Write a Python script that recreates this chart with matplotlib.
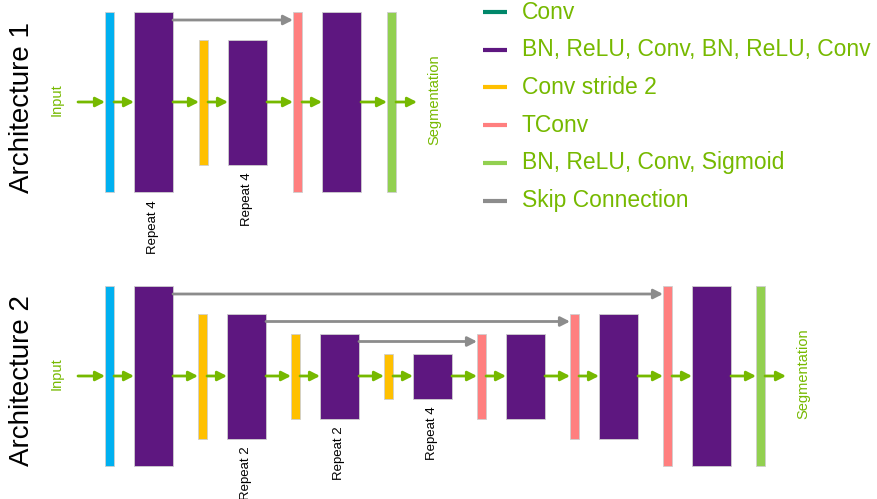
'''
Segmentation network architecture diagram
'''

# Imports
import matplotlib
matplotlib.use('Agg')
import matplotlib.pyplot as plt
from matplotlib.patches import Rectangle

plt.rcParams['font.family'] = ['Liberation Sans', 'DejaVu Sans']

# Colours
GREEN_TEXT = '#76B900'
COLORS = {
    'conv': '#00B0F0',
    'block': '#5E1780',
    'down': '#FFC000',
    'up': '#FF7F7F',
    'out': '#92D050',
    'skip': '#8C8C8C',
}

# Legend
LEGEND_LABELS = ['Conv', 'BN, ReLU, Conv, BN, ReLU, Conv', 'Conv stride 2',
                 'TConv', 'BN, ReLU, Conv, Sigmoid', 'Skip Connection']
LEGEND_COLORS = ['#00876A', '#5E1780', '#FFC000', '#FF7F7F', '#92D050', '#8C8C8C']

# Architectures: layer kinds, depth level of each layer, repeat labels
ARCH1_KINDS = ['conv', 'block', 'down', 'block', 'up', 'block', 'out']
ARCH1_LEVELS = [0, 0, 1, 1, 0, 0, 0]
ARCH1_REPEATS = ['', 'Repeat 4', '', 'Repeat 4', '', '', '']

ARCH2_KINDS = ['conv', 'block', 'down', 'block', 'down', 'block', 'down', 'block',
               'up', 'block', 'up', 'block', 'up', 'block', 'out']
ARCH2_LEVELS = [0, 0, 1, 1, 2, 2, 3, 3, 2, 2, 1, 1, 0, 0, 0]
ARCH2_REPEATS = ['', '', '', 'Repeat 2', '', 'Repeat 2', '', 'Repeat 4',
                 '', '', '', '', '', '', '']

# Drawing params (pixels)
LEVEL_HEIGHT = [180, 125, 85, 45]
THIN_W, WIDE_W = 9, 39


def DrawArchitecture(ax, kinds, levels, repeats, cy, title, gaps):
    x = 105
    boxes = []
    for i, (k, lv) in enumerate(zip(kinds, levels)):
        w = WIDE_W if k == 'block' else THIN_W
        h = LEVEL_HEIGHT[lv]
        ax.add_patch(Rectangle((x, cy - h / 2), w, h, facecolor=COLORS[k],
                               edgecolor='#cfcfcf', linewidth=0.6, zorder=2))
        boxes.append((x, w, h))
        if repeats[i]:
            ax.text(x + w / 2, cy + h / 2 + 8, repeats[i], rotation=90, ha='center',
                    va='top', fontsize=9.5, color='black')
        x += w + (gaps[0] if k == 'block' else gaps[1])

    arrow = dict(arrowstyle='-|>,head_length=0.55,head_width=0.28', color=GREEN_TEXT,
                 lw=2, shrinkA=0, shrinkB=0)
    # main path
    ax.annotate('', xy=(boxes[0][0], cy), xytext=(78, cy), arrowprops=arrow)
    for (x0, w0, _), (x1, _, _) in zip(boxes[:-1], boxes[1:]):
        ax.annotate('', xy=(x1, cy), xytext=(x0 + w0, cy), arrowprops=arrow)
    xl, wl, _ = boxes[-1]
    ax.annotate('', xy=(xl + wl + 21, cy), xytext=(xl + wl, cy), arrowprops=arrow)

    # skip connections: encoder block -> up layer on the same level
    skip = dict(arrow, color=COLORS['skip'])
    for i, k in enumerate(kinds):
        if k != 'block' or i + 1 >= len(kinds) or kinds[i + 1] != 'down':
            continue
        lv = levels[i]
        j = [n for n in range(i + 1, len(kinds)) if kinds[n] == 'up' and levels[n] == lv][0]
        y = cy - LEVEL_HEIGHT[lv] / 2 + 8
        ax.annotate('', xy=(boxes[j][0], y), xytext=(boxes[i][0] + boxes[i][1], y),
                    arrowprops=skip)

    ax.text(57, cy - 2, 'Input', rotation=90, ha='center', va='center',
            fontsize=10.5, color=GREEN_TEXT)
    ax.text(xl + wl + 38, cy - 2, 'Segmentation', rotation=90, ha='center', va='center',
            fontsize=10.5, color=GREEN_TEXT)
    ax.text(22, cy + 5, title, rotation=90, ha='center', va='center',
            fontsize=20, color='black')


fig = plt.figure(figsize=(8.78, 4.99), dpi=100)
ax = fig.add_axes([0, 0, 1, 1])
ax.set_xlim(0, 878)
ax.set_ylim(499, 0)
ax.axis('off')

DrawArchitecture(ax, ARCH1_KINDS, ARCH1_LEVELS, ARCH1_REPEATS, 102, 'Architecture 1', (26, 20))
DrawArchitecture(ax, ARCH2_KINDS, ARCH2_LEVELS, ARCH2_REPEATS, 376, 'Architecture 2', (25, 20))

# Legend
for n, (lab, col) in enumerate(zip(LEGEND_LABELS, LEGEND_COLORS)):
    y = 12 + n * 37.7
    ax.plot([483, 507], [y, y], color=col, lw=3, solid_capstyle='butt')
    ax.text(522, y, lab, ha='left', va='center', fontsize=16.5, color=GREEN_TEXT)

fig.savefig('out.png', dpi=100)
